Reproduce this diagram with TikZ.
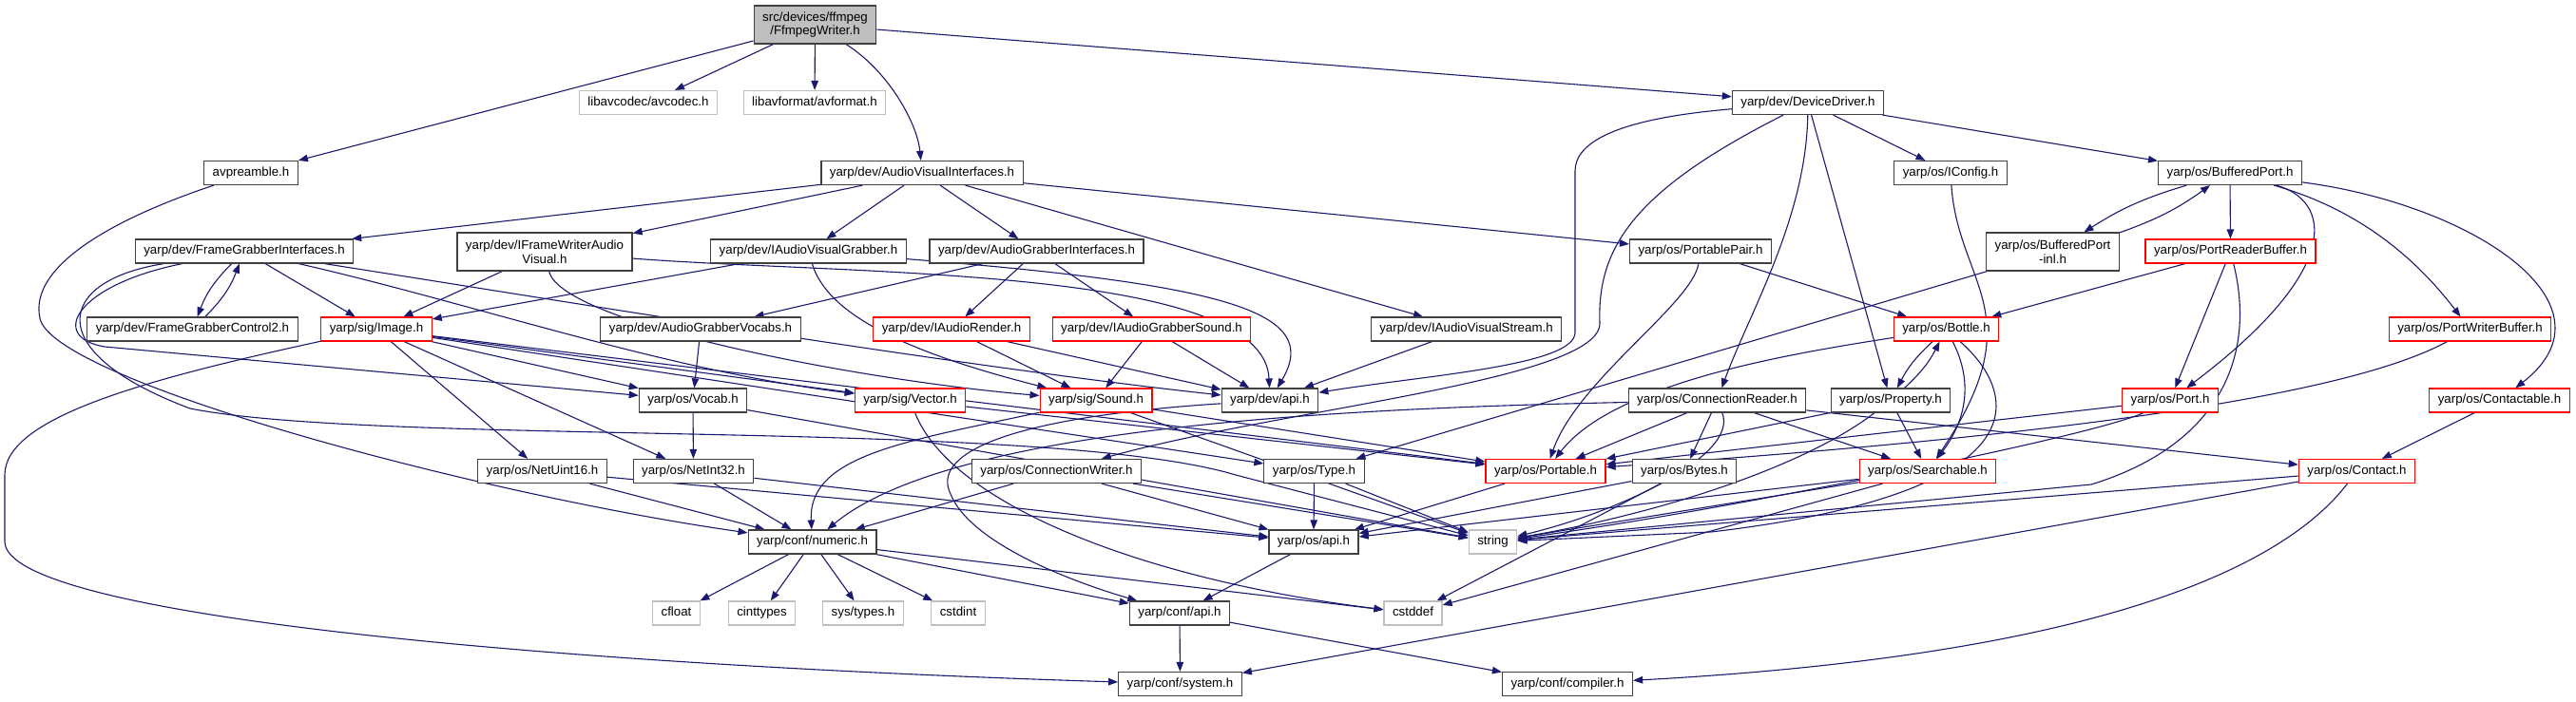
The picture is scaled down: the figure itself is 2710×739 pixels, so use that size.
\documentclass[tikz,border=0pt]{standalone}
\usepackage{fontspec}
\setmainfont{Liberation Sans}
\usetikzlibrary{arrows.meta, positioning}

\definecolor{edgeblue}{RGB}{25,25,112}
\definecolor{extgray}{RGB}{191,191,191}
\definecolor{boxgray}{RGB}{64,64,64}
\definecolor{truncred}{RGB}{255,0,0}

\pgfdeclarelayer{background}
\pgfsetlayers{background,main}

\begin{document}
\begin{tikzpicture}[x=1pt, y=-1pt,
  file/.style={draw=boxgray, line width=1.2pt, fill=white, font=\fontsize{13.3}{14.5}\selectfont, inner xsep=9pt, inner ysep=0pt, minimum height=25pt, text height=9.6pt, text depth=2.8pt},
  twoline/.style={draw=boxgray, line width=1.2pt, fill=white, font=\fontsize{13.3}{14.5}\selectfont, inner xsep=9pt, inner ysep=0pt, minimum height=40pt, align=center},
  trunc/.style={file, draw=truncred},
  ext/.style={file, draw=extgray},
  root/.style={twoline, fill=extgray},
  edge/.style={draw=edgeblue, line width=1.1pt, -{Triangle[length=10pt, width=7.5pt]}}
]
  \useasboundingbox (0,0) rectangle (2710,739);

  % Root
  \node[root] (ffw) at (857.5,26) {src/devices/ffmpeg\\/FfmpegWriter.h};

  % Row 1
  \node[ext] (avcodec) at (682,108) {libavcodec/avcodec.h};
  \node[ext] (avformat) at (857,108) {libavformat/avformat.h};
  \node[file] (devdrv) at (1902,108) {yarp/dev/DeviceDriver.h};

  % Row 2
  \node[file] (avpre) at (264,182) {avpreamble.h};
  \node[file] (avi) at (970,182) {yarp/dev/AudioVisualInterfaces.h};
  \node[file] (iconfig) at (2052,182) {yarp/os/IConfig.h};
  \node[file] (bport) at (2346,182) {yarp/os/BufferedPort.h};

  % Row 3
  \node[file] (fgi) at (257,264.5) {yarp/dev/FrameGrabberInterfaces.h};
  \node[twoline] (ifwav) at (573,265) {yarp/dev/IFrameWriterAudio\\Visual.h};
  \node[file] (iavg) at (850.5,264.5) {yarp/dev/IAudioVisualGrabber.h};
  \node[file] (agi) at (1090.5,264.5) {yarp/dev/AudioGrabberInterfaces.h};
  \node[file] (ppair) at (1789,264.5) {yarp/os/PortablePair.h};
  \node[twoline] (bportinl) at (2159.5,265) {yarp/os/BufferedPort\\-inl.h};
  \node[trunc] (prbuf) at (2346.5,264.5) {yarp/os/PortReaderBuffer.h};

  % Row 4
  \node[file] (fgc2) at (202.5,346.5) {yarp/dev/FrameGrabberControl2.h};
  \node[trunc] (image) at (396,346.5) {yarp/sig/Image.h};
  \node[file] (agvoc) at (737,346.5) {yarp/dev/AudioGrabberVocabs.h};
  \node[trunc] (iarender) at (1001,346.5) {yarp/dev/IAudioRender.h};
  \node[trunc] (iagsound) at (1211.5,346.5) {yarp/dev/IAudioGrabberSound.h};
  \node[file] (iavs) at (1542.5,346.5) {yarp/dev/IAudioVisualStream.h};
  \node[trunc] (bottle) at (2047.5,346.5) {yarp/os/Bottle.h};
  \node[trunc] (pwbuf) at (2598.5,346.5) {yarp/os/PortWriterBuffer.h};

  % Row 5
  \node[file] (vocab) at (729,421.5) {yarp/os/Vocab.h};
  \node[trunc] (vector) at (957.5,421.5) {yarp/sig/Vector.h};
  \node[trunc] (sound) at (1153,421.5) {yarp/sig/Sound.h};
  \node[file] (devapi) at (1336,421.5) {yarp/dev/api.h};
  \node[file] (connreader) at (1806.5,421.5) {yarp/os/ConnectionReader.h};
  \node[file] (property) at (1989,421.5) {yarp/os/Property.h};
  \node[trunc] (port) at (2283,421.5) {yarp/os/Port.h};
  \node[trunc] (contactable) at (2629.5,421.5) {yarp/os/Contactable.h};

  % Row 6
  \node[file] (netuint16) at (570.5,496) {yarp/os/NetUint16.h};
  \node[file] (netint32) at (729.5,496) {yarp/os/NetInt32.h};
  \node[file] (connwriter) at (1111.5,496) {yarp/os/ConnectionWriter.h};
  \node[file] (type) at (1382.5,496) {yarp/os/Type.h};
  \node[trunc] (portable) at (1626,496) {yarp/os/Portable.h};
  \node[file] (bytes) at (1772,496) {yarp/os/Bytes.h};
  \node[trunc] (searchable) at (2028,496) {yarp/os/Searchable.h};
  \node[trunc] (contact) at (2479.5,496) {yarp/os/Contact.h};

  % Row 7
  \node[file] (numeric) at (854.5,570.5) {yarp/conf/numeric.h};
  \node[file] (osapi) at (1382,570.5) {yarp/os/api.h};
  \node[ext] (string) at (1570.5,570.5) {string};

  % Row 8
  \node[ext] (cfloat) at (711.5,645.5) {cfloat};
  \node[ext] (cinttypes) at (801.5,645.5) {cinttypes};
  \node[ext] (systypes) at (908,645.5) {sys/types.h};
  \node[ext] (cstdint) at (1008,645.5) {cstdint};
  \node[file] (confapi) at (1241,645.5) {yarp/conf/api.h};
  \node[ext] (cstddef) at (1486.5,645.5) {cstddef};

  % Row 9
  \node[file] (system) at (1241.5,720) {yarp/conf/system.h};
  \node[file] (compiler) at (1649,720) {yarp/conf/compiler.h};

  \begin{pgfonlayer}{background}
  % From FfmpegWriter.h
  \draw[edge] (ffw) -- (avpre);
  \draw[edge] (ffw) -- (avcodec);
  \draw[edge] (ffw) -- (avformat);
  \draw[edge] (ffw) .. controls (935,75) and (965,130) .. (avi);
  \draw[edge] (ffw) -- (devdrv);
  \draw[edge] (avpre) .. controls (120,230) and (30,280) .. (42,335) .. controls (55,400) and (500,520) .. (numeric);

  % AudioVisualInterfaces.h
  \draw[edge] (avi) -- (fgi);
  \draw[edge] (avi) -- (ifwav);
  \draw[edge] (avi) -- (iavg);
  \draw[edge] (avi) -- (agi);
  \draw[edge] (avi) -- (iavs);
  \draw[edge] (avi) -- (ppair);

  % DeviceDriver.h
  \draw[edge] (devdrv) -- (iconfig);
  \draw[edge] (devdrv) -- (bport);
  \draw[edge] (devdrv) .. controls (1700,125) and (1657,150) .. (1657,180) -- (1657,350) .. controls (1657,385) and (1500,395) .. (devapi);
  \draw[edge] (devdrv) .. controls (1720,200) and (1680,260) .. (1683,340) .. controls (1685,400) and (1350,430) .. (connwriter);
  \draw[edge] (devdrv) .. controls (1900,230) and (1840,330) .. (connreader);
  \draw[edge] (devdrv) -- (property);

  % FrameGrabberInterfaces.h
  \draw[edge] (fgi) to[bend right=12] (fgc2);
  \draw[edge] (fgc2) to[bend right=12] (fgi);
  \draw[edge] (fgi) -- (image);
  \draw[edge] (fgi) .. controls (80,300) and (50,355) .. (110,365) -- (vocab);
  \draw[edge] (fgi) .. controls (60,295) and (40,370) .. (200,430) .. controls (400,470) and (1100,440) .. (1300,500) -- (string);
  \draw[edge] (fgi) .. controls (500,320) and (700,390) .. (vector);
  \draw[edge] (fgi) .. controls (550,310) and (1000,385) .. (devapi);

  % IFrameWriterAudioVisual.h, IAudioVisualGrabber.h
  \draw[edge] (ifwav) -- (image);
  \draw[edge] (ifwav) .. controls (900,290) and (1330,280) .. (devapi);
  \draw[edge] (ifwav) .. controls (590,340) and (900,400) .. (sound);
  \draw[edge] (iavg) -- (image);
  \draw[edge] (iavg) .. controls (1300,300) and (1390,330) .. (devapi);
  \draw[edge] (iavg) .. controls (870,330) and (950,370) .. (sound);

  % AudioGrabberInterfaces.h and below
  \draw[edge] (agi) -- (agvoc);
  \draw[edge] (agi) -- (iarender);
  \draw[edge] (agi) -- (iagsound);
  \draw[edge] (iarender) -- (sound);
  \draw[edge] (iarender) -- (devapi);
  \draw[edge] (iagsound) -- (sound);
  \draw[edge] (iagsound) -- (devapi);
  \draw[edge] (iavs) -- (devapi);
  \draw[edge] (agvoc) -- (vocab);

  % PortablePair.h, IConfig.h
  \draw[edge] (ppair) .. controls (1780,320) and (1660,400) .. (portable);
  \draw[edge] (ppair) -- (bottle);
  \draw[edge] (iconfig) .. controls (2060,300) and (2140,330) .. (searchable);

  % BufferedPort.h
  \draw[edge] (bport) to[bend right=8] (bportinl);
  \draw[edge] (bportinl) to[bend right=8] (bport);
  \draw[edge] (bport) -- (prbuf);
  \draw[edge] (bport) .. controls (2450,210) and (2470,280) .. (port);
  \draw[edge] (bport) .. controls (2480,220) and (2540,270) .. (pwbuf);
  \draw[edge] (bport) .. controls (2600,215) and (2760,320) .. (contactable);
  \draw[edge] (bportinl) -- (type);
  \draw[edge] (prbuf) -- (bottle);
  \draw[edge] (prbuf) -- (port);
  \draw[edge] (prbuf) .. controls (2375,380) and (2330,470) .. (2200,510) -- (string);
  \draw[edge] (pwbuf) .. controls (2500,400) and (2300,450) .. (portable);

  % Bottle.h, Property.h
  \draw[edge] (bottle) .. controls (1900,370) and (1700,400) .. (portable);
  \draw[edge] (bottle) to[bend right=10] (property);
  \draw[edge] (property) to[bend right=10] (bottle);
  \draw[edge] (bottle) .. controls (2075,400) and (2070,440) .. (searchable);
  \draw[edge] (bottle) .. controls (2130,420) and (2140,520) .. (1800,560) -- (string);
  \draw[edge] (property) -- (searchable);
  \draw[edge] (property) -- (portable);
  \draw[edge] (property) .. controls (1900,490) and (1750,540) .. (string);
  \draw[edge] (port) -- (portable);
  \draw[edge] (port) .. controls (2200,460) and (1800,540) .. (string);
  \draw[edge] (contactable) -- (contact);

  % ConnectionReader.h
  \draw[edge] (connreader) -- (portable);
  \draw[edge] (connreader) -- (bytes);
  \draw[edge] (connreader) -- (searchable);
  \draw[edge] (connreader) -- (contact);
  \draw[edge] (connreader) .. controls (1830,480) and (1700,540) .. (string);
  \draw[edge] (connreader) .. controls (1400,430) and (1000,450) .. (numeric);

  % Searchable.h, Contact.h
  \draw[edge] (searchable) -- (osapi);
  \draw[edge] (searchable) -- (string);
  \draw[edge] (searchable) -- (cstddef);
  \draw[edge] (contact) -- (string);
  \draw[edge] (contact) -- (system);
  \draw[edge] (contact) .. controls (2400,600) and (2200,690) .. (compiler);

  % Image.h
  \draw[edge] (image) .. controls (150,400) and (5,440) .. (5,500) -- (5,570) .. controls (5,650) and (600,700) .. (system);
  \draw[edge] (image) -- (netuint16);
  \draw[edge] (image) -- (netint32);
  \draw[edge] (image) -- (vocab);
  \draw[edge] (image) -- (vector);
  \draw[edge] (image) -- (portable);
  \draw[edge] (image) -- (type);

  % Vocab.h, Vector.h, Sound.h
  \draw[edge] (vocab) -- (netint32);
  \draw[edge] (vocab) -- (string);
  \draw[edge] (vector) -- (portable);
  \draw[edge] (vector) .. controls (1000,530) and (1200,610) .. (cstddef);
  \draw[edge] (sound) -- (portable);
  \draw[edge] (sound) .. controls (950,465) and (850,480) .. (numeric);
  \draw[edge] (sound) -- (string);

  % dev/api.h
  \draw[edge] (devapi) .. controls (1050,440) and (980,480) .. (1000,520) .. controls (1020,570) and (1120,610) .. (confapi);

  % Row 6 headers
  \draw[edge] (netuint16) -- (numeric);
  \draw[edge] (netuint16) -- (osapi);
  \draw[edge] (netint32) -- (numeric);
  \draw[edge] (netint32) -- (osapi);
  \draw[edge] (connwriter) -- (numeric);
  \draw[edge] (connwriter) -- (osapi);
  \draw[edge] (connwriter) -- (string);
  \draw[edge] (type) -- (osapi);
  \draw[edge] (type) -- (string);
  \draw[edge] (portable) -- (osapi);
  \draw[edge] (bytes) -- (osapi);
  \draw[edge] (bytes) -- (cstddef);

  % numeric.h and conf
  \draw[edge] (numeric) -- (cfloat);
  \draw[edge] (numeric) -- (cinttypes);
  \draw[edge] (numeric) -- (systypes);
  \draw[edge] (numeric) -- (cstdint);
  \draw[edge] (numeric) -- (confapi);
  \draw[edge] (numeric) -- (cstddef);
  \draw[edge] (osapi) -- (confapi);
  \draw[edge] (confapi) -- (system);
  \draw[edge] (confapi) -- (compiler);
  \end{pgfonlayer}
\end{tikzpicture}
\end{document}
